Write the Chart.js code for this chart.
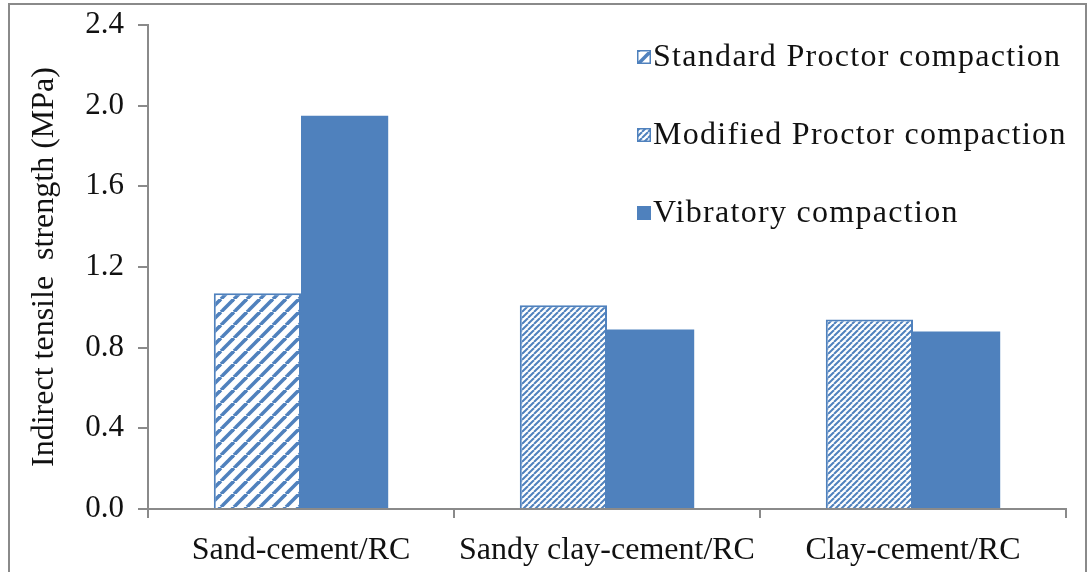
<!DOCTYPE html>
<html>
<head>
<meta charset="utf-8">
<script src="https://cdn.jsdelivr.net/npm/chart.js@4.4.1/dist/chart.umd.min.js"></script>
<style>
    html, body { margin: 0; padding: 0; background: #fff; }
    #wrap { position: relative; width: 1092px; height: 572px; overflow: hidden; }
    #frame {
        position: absolute; left: 8px; top: 3px; width: 1075px; height: 600px;
        border: 2px solid #8a8a8a; pointer-events: none;
    }
</style>
</head>
<body>
<div id="wrap">
    <canvas id="chart" width="1092" height="572"></canvas>
    <div id="frame"></div>
</div>
<script>
    /* ================= DATA ================= */

    const categories = ["Sand-cement/RC", "Sandy clay-cement/RC", "Clay-cement/RC"];
    const standardProctor = [1.07, null, null];
    const modifiedProctor = [null, 1.01, 0.94];
    const vibratory = [1.95, 0.89, 0.88];
    const yTicks = [0, 0.4, 0.8, 1.2, 1.6, 2.0, 2.4];

    /* ================= STYLE ================= */

    const BLUE = "#4f81bd";
    const AXIS = "#8a8a8a";
    const SERIF = "'Liberation Serif', 'Times New Roman', serif";

    // diagonal "/" stripes
    function stripes(period, lineW) {
        const c = document.createElement("canvas");
        c.width = c.height = period;
        const x = c.getContext("2d");
        x.fillStyle = "#fff";
        x.fillRect(0, 0, period, period);
        x.strokeStyle = BLUE;
        x.lineWidth = lineW;
        for (let k = -1; k <= 1; k++) {
            x.beginPath();
            x.moveTo(k * period, period);
            x.lineTo(k * period + period, 0);
            x.stroke();
        }
        return x.createPattern(c, "repeat");
    }

    const wideHatch = stripes(13, 3.6);
    const fineHatch = stripes(6, 2);

    /* ================= LEGEND (inside plot) ================= */

    const innerLegend = {
        id: "innerLegend",
        afterDraw(chart) {
            const ctx = chart.ctx;
            const x0 = 637, y0 = 57, gap = 78, box = 14;
            ctx.save();
            ctx.font = "32px " + SERIF;
            ctx.letterSpacing = "1.3px";
            ctx.textBaseline = "middle";
            chart.data.datasets.forEach((ds, i) => {
                const y = y0 + i * gap;
                ctx.fillStyle = ds.backgroundColor;
                ctx.fillRect(x0, y - box / 2, box, box);
                if (ds.borderWidth) {
                    ctx.strokeStyle = BLUE;
                    ctx.lineWidth = 1.5;
                    ctx.strokeRect(x0 + 0.75, y - box / 2 + 0.75, box - 1.5, box - 1.5);
                }
                ctx.fillStyle = "#111";
                ctx.fillText(ds.label, x0 + box + 2, y + 1);
            });
            ctx.restore();
        }
    };

    /* ================= CHART ================= */

    new Chart(document.getElementById("chart"), {
        type: "bar",
        data: {
            labels: categories,
            datasets: [
                {
                    label: "Standard Proctor compaction",
                    data: standardProctor,
                    backgroundColor: wideHatch,
                    borderColor: BLUE,
                    borderWidth: 2,
                    skipNull: true,
                },
                {
                    label: "Modified Proctor compaction",
                    data: modifiedProctor,
                    backgroundColor: fineHatch,
                    borderColor: BLUE,
                    borderWidth: 2,
                    skipNull: true,
                },
                {
                    label: "Vibratory compaction",
                    data: vibratory,
                    backgroundColor: BLUE,
                    borderWidth: 0,
                    skipNull: true,
                },
            ]
        },
        options: {
            responsive: false,
            animation: false,
            layout: { padding: { left: 0, right: 26, top: 25, bottom: 0 } },
            datasets: {
                bar: { categoryPercentage: 0.57, barPercentage: 1.0 }
            },
            plugins: {
                legend: { display: false },
                tooltip: { enabled: false }
            },
            scales: {
                x: {
                    offset: true,
                    grid: {
                        offset: true,
                        drawOnChartArea: false,
                        tickLength: 9,
                        color: AXIS,
                        lineWidth: 2
                    },
                    border: { color: AXIS, width: 2 },
                    ticks: {
                        color: "#111",
                        padding: 13,
                        maxRotation: 0,
                        font: { family: SERIF, size: 32 }
                    },
                    afterFit: s => {
                        s.height = 63;
                        s.paddingLeft = 0;
                        s.paddingRight = 0;
                    }
                },
                y: {
                    min: 0,
                    max: 2.4,
                    afterBuildTicks: s => { s.ticks = yTicks.map(v => ({ value: v })); },
                    grid: {
                        drawOnChartArea: false,
                        tickLength: 10,
                        color: AXIS,
                        lineWidth: 2
                    },
                    border: { color: AXIS, width: 2 },
                    ticks: {
                        color: "#111",
                        padding: 14,
                        font: { family: SERIF, size: 31 },
                        callback: v => Number(v).toFixed(1)
                    },
                    title: {
                        display: true,
                        text: "Indirect tensile  strength (MPa)",
                        color: "#111",
                        padding: { top: 25, bottom: 0 },
                        font: { family: SERIF, size: 32 }
                    },
                    afterFit: s => {
                        s.width = 148;
                        s.paddingTop = 0;
                        s.paddingBottom = 0;
                    }
                }
            }
        },
        plugins: [innerLegend]
    });
</script>
</body>
</html>
